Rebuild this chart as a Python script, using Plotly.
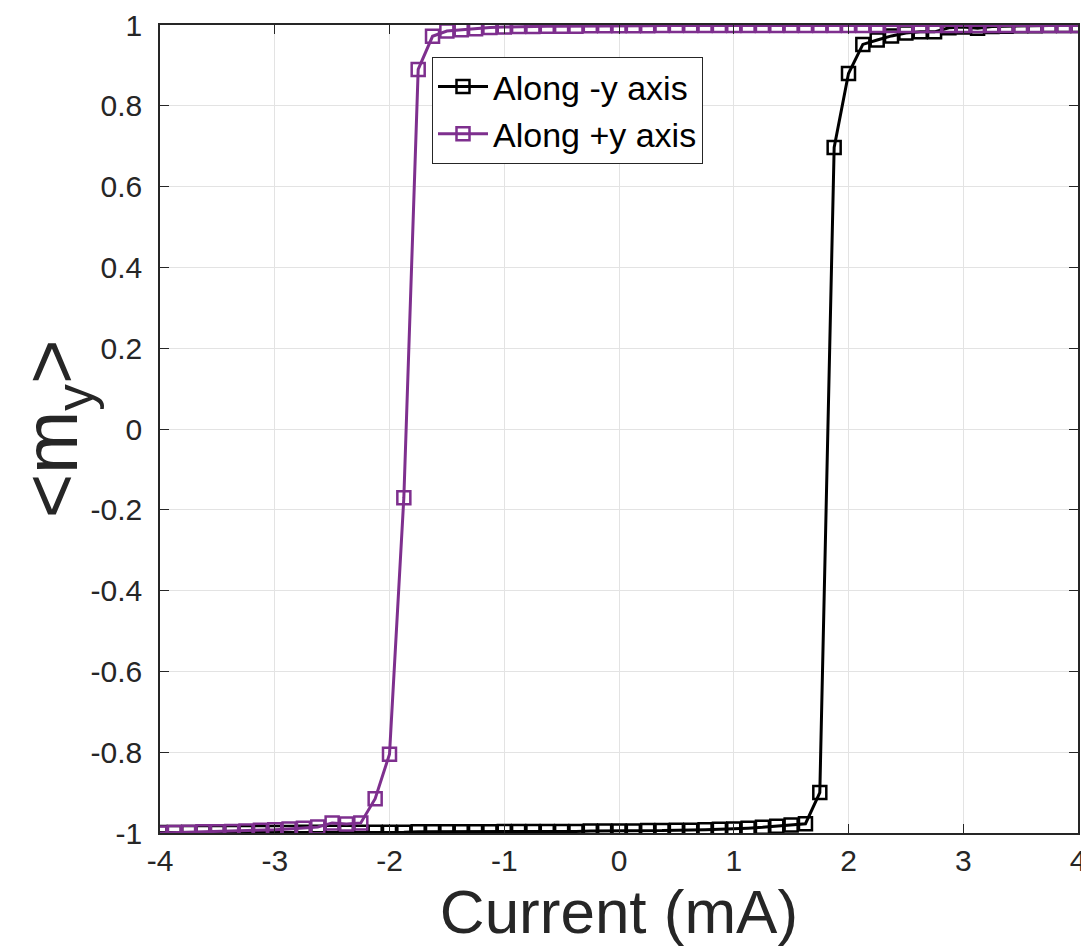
import plotly.graph_objects as go

current = [round(-4 + 0.125 * i, 3) for i in range(65)]

my_minus_y = [
    -0.999, -0.999, -0.999, -0.999, -0.999, -0.999, -0.999, -0.999,
    -0.999, -0.999, -0.998, -0.998, -0.998, -0.998, -0.998, -0.998,
    -0.998, -0.998, -0.997, -0.997, -0.997, -0.997, -0.997, -0.997,
    -0.996, -0.996, -0.996, -0.996, -0.996, -0.996, -0.995, -0.995,
    -0.995, -0.995, -0.994, -0.994, -0.993, -0.993, -0.992, -0.991,
    -0.990, -0.988, -0.986, -0.983, -0.980, -0.977, -0.900, 0.697,
    0.880, 0.952, 0.963, 0.973, 0.980, 0.983, 0.983, 0.993,
    0.995, 0.992, 0.996, 0.997, 0.998, 0.998, 0.999, 0.999, 0.999,
]

my_plus_y = [
    -1.000, -0.999, -0.998, -0.997, -0.997, -0.996, -0.995, -0.993,
    -0.992, -0.990, -0.988, -0.985, -0.975, -0.978, -0.975, -0.915,
    -0.805, -0.170, 0.890, 0.972, 0.985, 0.988, 0.991, 0.994,
    0.995, 0.996, 0.996, 0.997, 0.997, 0.997, 0.998, 0.998,
    0.998, 0.998, 0.998, 0.999, 0.999, 0.999, 0.999, 0.999,
    0.999, 0.999, 0.999, 0.999, 0.999, 0.999, 0.999, 0.999,
    0.999, 0.999, 0.999, 0.999, 0.999, 0.999, 0.999, 0.999,
    0.999, 0.999, 0.999, 0.999, 0.999, 0.999, 0.999, 0.999, 0.999,
]

x_ticks = [-4, -3, -2, -1, 0, 1, 2, 3, 4]
y_ticks = [-1, -0.8, -0.6, -0.4, -0.2, 0, 0.2, 0.4, 0.6, 0.8, 1]
y_tick_labels = ["-1", "-0.8", "-0.6", "-0.4", "-0.2", "0", "0.2", "0.4", "0.6", "0.8", "1"]

fig = go.Figure()
fig.add_trace(go.Scatter(
    x=current, y=my_minus_y, mode="lines+markers", name="Along -y axis",
    line=dict(color="black", width=3),
    marker=dict(symbol="square-open", size=13, color="black", line=dict(width=2.5)),
))
fig.add_trace(go.Scatter(
    x=current, y=my_plus_y, mode="lines+markers", name="Along +y axis",
    line=dict(color="#7E2F8E", width=3),
    marker=dict(symbol="square-open", size=13, color="#7E2F8E", line=dict(width=2.5)),
))

FONT = "Liberation Sans, Arial"
axis_font = dict(family=FONT, size=30, color="#262626")
fig.update_layout(
    width=1081, height=938,
    margin=dict(l=152, r=11, t=17, b=113),
    plot_bgcolor="white", paper_bgcolor="white",
    showlegend=True,
    legend=dict(
        x=0.2963, y=0.9604, xanchor="left", yanchor="top",
        bgcolor="white", bordercolor="#262626", borderwidth=1,
        font=dict(family=FONT, size=34, color="black"),
        tracegroupgap=0, itemwidth=50,
    ),
    xaxis=dict(
        range=[-4, 4], tickvals=x_ticks, ticktext=[str(v) for v in x_ticks],
        showgrid=True, gridcolor="#E3E3E3", gridwidth=1,
        showline=True, linecolor="#262626", linewidth=1.5, mirror="ticks",
        ticks="inside", ticklen=9, tickcolor="#262626",
        tickfont=axis_font, zeroline=False, automargin=False,
        title=dict(text="Current (mA)", font=dict(family=FONT, size=62, color="#262626"), standoff=2),
    ),
    yaxis=dict(
        range=[-1, 1], tickvals=y_ticks, ticktext=y_tick_labels,
        showgrid=True, gridcolor="#E3E3E3", gridwidth=1,
        showline=True, linecolor="#262626", linewidth=1.5, mirror="ticks",
        ticks="inside", ticklen=9, tickcolor="#262626", ticklabelstandoff=10,
        tickfont=axis_font, zeroline=False, automargin=False,
        title=dict(text="&lt;m<sub>y</sub>&gt;", font=dict(family=FONT, size=76, color="#262626"), standoff=14),
    ),
)

fig.write_html("out.html")
